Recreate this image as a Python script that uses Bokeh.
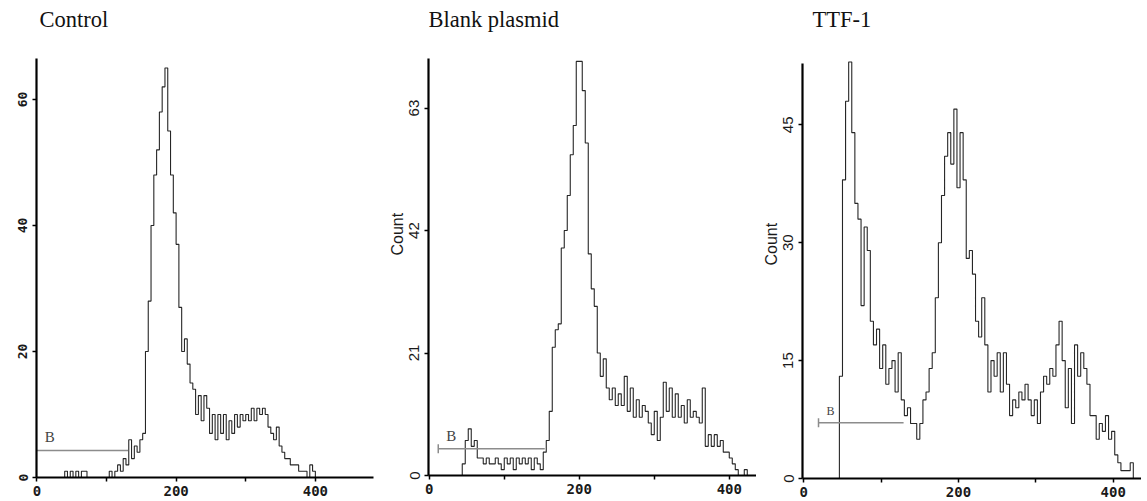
import numpy as np
from bokeh.plotting import figure
from bokeh.layouts import row
from bokeh.models import Range1d, FixedTicker, Title
from bokeh.core.properties import value
from bokeh.embed import file_html
from bokeh.resources import INLINE

# ---------------- data (channel histograms, bin width 4) ----------------
BIN = 4
control_start = 36
control_counts = [0, 1, 0, 1, 0, 1, 0, 1, 1, 0,
                  0, 0, 0, 0, 0, 0, 0,
                  1, 0, 1, 2, 1, 3, 2, 6, 3, 5, 4, 6, 7,
                  20, 28, 40, 48, 52, 58, 62, 65, 55, 48, 42, 37, 27, 20, 22, 18,
                  15, 14, 10, 13, 9, 13, 11, 7, 10, 6, 10, 7, 10, 6, 9, 7, 10, 8,
                  10, 9, 10, 9, 11, 9, 11, 10, 11, 10, 8, 7, 6, 8, 5, 4, 3, 3, 2,
                  2, 2, 1, 1, 1, 0, 2, 1, 0]

blank_start = 44
blank_counts = [2, 6, 8, 5, 6, 3, 3, 2, 3, 2, 2, 3, 2, 1, 3, 2, 3, 1, 3, 2,
                3, 2, 3, 1, 3, 2, 1, 4, 6, 11, 22, 25, 26, 39, 42, 48, 55, 60,
                71, 71, 66, 57, 38, 32, 29, 21, 17, 20, 15, 13, 15, 12, 14, 12,
                17, 11, 15, 10, 13, 10, 12, 11, 9, 7, 11, 6, 10, 16, 11, 15, 10,
                14, 10, 12, 9, 13, 10, 11, 10, 9, 15, 5, 7, 5, 7, 5, 6, 4, 4, 3,
                2, 1, 0, 0, 1, 0]

ttf_start = 46
ttf_counts = [13, 38, 48, 53, 44, 35, 33, 22, 32, 29, 20, 17, 19, 14, 17, 12,
              14, 15, 11, 16, 10, 8, 9, 7, 7, 5, 7, 10, 11, 14, 16, 23, 30, 36,
              41, 44, 40, 47, 37, 44, 38, 28, 29, 26, 20, 18, 23, 17, 11, 15, 13,
              16, 11, 16, 12, 8, 10, 9, 11, 10, 12, 10, 8, 10, 7, 11, 13, 12, 14,
              13, 17, 20, 15, 9, 14, 7, 17, 13, 16, 14, 12, 8, 8, 5, 7, 6, 8, 5,
              6, 3, 2, 1, 1, 1, 2, 0]

titles = ["Control", "Blank plasmid", "TTF-1"]
y_labels = [None, "Count", "Count"]
x_ticks = [0, 200, 400]
x_minor_ticks = [100, 300]
y_ticks_control = [0, 20, 40, 60]
y_ticks_blank = [0, 21, 42, 63]
y_ticks_ttf = [0, 15, 30, 45]
y_max = [66.5, 71.5, 52.8]
x_range = [(-0.5, 483.5), (-1.0, 436.3), (-1.7, 436.6)]

# gate "B": start, end, level
gate_control = [0, 131, 4.3]
gate_blank = [12, 154, 4.6]
gate_ttf = [19, 129, 7.1]


def make_panel(title, start, counts, yticks, ymax, xr, gate, caps, ylabel,
               ylab_font, ylab_size, dims, title_dx, b_size, ylabel_offset):
    # dims: left border, frame width, right border, axis top (px from top),
    #       frame height (incl. title area), bottom border
    mb_left, frame_w, mb_right, axis_top, frame_h, mb_bottom = dims
    y_top = ymax * frame_h / (frame_h - axis_top)
    p = figure(output_backend="svg", toolbar_location=None,
               width=mb_left + frame_w + mb_right,
               height=frame_h + mb_bottom,
               min_border_left=mb_left, min_border_right=mb_right,
               min_border_top=0, min_border_bottom=mb_bottom,
               x_range=Range1d(*xr), y_range=Range1d(0, y_top))
    p.frame_align = False
    p.outline_line_color = None
    p.grid.visible = False
    p.background_fill_color = "white"
    p.border_fill_color = "white"

    # panel title (drawn at the top edge of the plotting area)
    p.text(x=[xr[0]], y=[y_top], text=[title], x_offset=title_dx, y_offset=19,
           text_font=value("Liberation Serif"), text_font_size="22.5px",
           text_color="#111111", text_baseline="alphabetic", text_align="left")

    # histogram as step line
    n = len(counts)
    edges = start + BIN * np.arange(n)
    xs = np.concatenate([[edges[0]], edges, [edges[-1] + BIN]])
    ys = np.concatenate([[0], np.asarray(counts, dtype=float), [0]])
    p.step(xs, ys, mode="after", line_color="#262626", line_width=1.1)

    # gate marker
    gs, ge, gl = gate
    p.segment(x0=[gs], y0=[gl], x1=[ge], y1=[gl], line_color="#8c8c8c",
              line_width=1.5)
    if caps:
        p.scatter(x=[gs], y=[gl], marker="dash", size=9, angle=np.pi / 2,
                  line_color="#8c8c8c", line_width=1.5)
    p.text(x=[gs], y=[gl], text=["B"], x_offset=8, y_offset=-5,
           text_font=value("Liberation Serif"), text_font_size=b_size,
           text_color="#444444", text_baseline="bottom")

    # axes
    p.xaxis.ticker = FixedTicker(ticks=x_ticks, minor_ticks=x_minor_ticks)
    p.yaxis.ticker = FixedTicker(ticks=yticks)
    p.yaxis.bounds = (0, ymax)
    for ax in (p.xaxis[0], p.yaxis[0]):
        ax.axis_line_width = 2.2
        ax.axis_line_color = "black"
        ax.major_tick_in = 0
        ax.major_tick_out = 4
        ax.major_tick_line_width = 1.5
        ax.major_label_text_color = "#1a1a1a"
    p.xaxis.minor_tick_in = 0
    p.xaxis.minor_tick_out = 4
    p.xaxis.minor_tick_line_width = 1.5
    p.yaxis.minor_tick_line_color = None
    p.xaxis.major_label_text_font = "DejaVu Sans Mono"
    p.xaxis.major_label_text_font_style = "bold"
    p.xaxis.major_label_text_font_size = "14px"
    p.xaxis.major_label_standoff = 4
    p.yaxis.major_label_orientation = "vertical"
    p.yaxis.major_label_text_font = ylab_font
    p.yaxis.major_label_text_font_size = ylab_size
    p.yaxis.major_label_standoff = 5
    if ylab_font == "DejaVu Sans Mono":
        p.yaxis.major_label_text_font_style = "bold"
    if ylabel:
        p.add_layout(Title(text=ylabel, align="left", offset=ylabel_offset,
                           standoff=1, text_font="Liberation Sans",
                           text_font_size="16px", text_font_style="normal",
                           text_color="#1a1a1a"), "left")
    return p


p1 = make_panel(titles[0], control_start, control_counts, y_ticks_control,
                y_max[0], x_range[0], gate_control, False, y_labels[0],
                "DejaVu Sans Mono", "13px",
                (36, 337, 4, 58, 477, 24), 3, "15px", 0)
p2 = make_panel(titles[1], blank_start, blank_counts, y_ticks_blank,
                y_max[1], x_range[1], gate_blank, True, y_labels[1],
                "Liberation Sans", "15px",
                (51, 328, 0, 58, 475, 26), 0, "15px", 220)
p3 = make_panel(titles[2], ttf_start, ttf_counts, y_ticks_ttf,
                y_max[2], x_range[2], gate_ttf, True, y_labels[2],
                "Liberation Sans", "15px",
                (46, 339, 0, 63, 478, 23), 10, "12px", 213)

layout = row(p1, p2, p3)
open("out.html", "w").write(file_html(layout, INLINE))
